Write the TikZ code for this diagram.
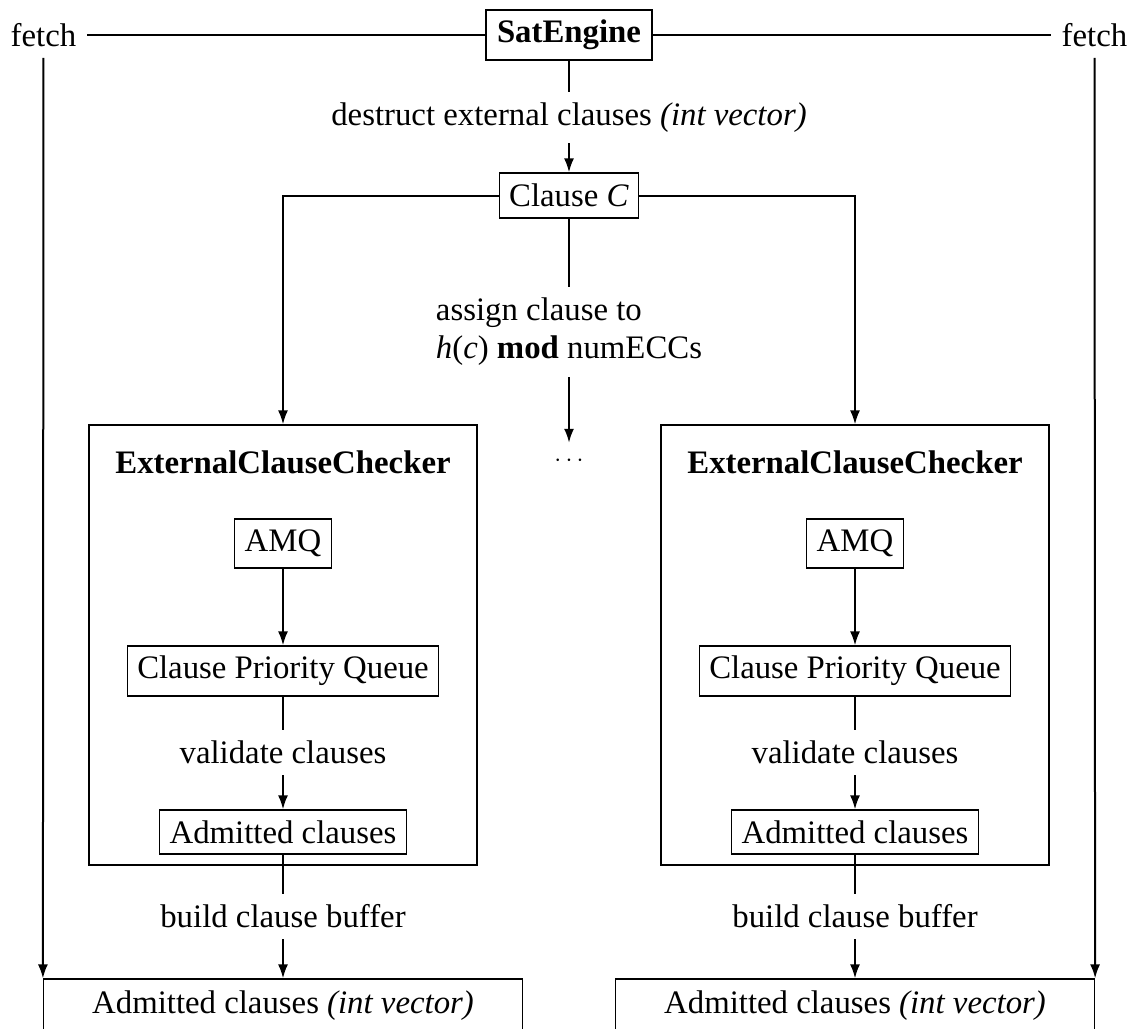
\documentclass[tikz,border=0pt]{standalone}
\usepackage{fontspec}
\setmainfont{Liberation Serif}
\usetikzlibrary{arrows.meta}
\newcommand\bigfont{\fontsize{32.8}{38}\selectfont}
\begin{document}
\begin{tikzpicture}[x=1pt, y=-1pt,
  font=\bigfont,
  box/.style={draw, line width=1.2pt, inner xsep=10pt, inner ysep=6pt},
  lbl/.style={inner sep=0pt},
  conn/.style={line width=2pt},
  flow/.style={conn, -{Latex[length=14pt, width=10pt]}},
  title/.style={font=\bigfont\bfseries},
]
\useasboundingbox (0,0) rectangle (1131,1028);
\clip (0,0) rectangle (1131,1028);

% engine and the clause distribution
\node[box, title, minimum width=166pt, minimum height=50pt] (sat) at (569,35) {SatEngine};
\node[inner sep=11pt] (fetchL) at (43.5,35) {fetch};
\node[inner sep=11pt] (fetchR) at (1094.5,35) {fetch};
\node[lbl, minimum height=51pt] (destr) at (569,117.5) {destruct external clauses \textit{(int vector)}};
\node[box, minimum width=136pt, minimum height=45pt] (clause) at (569,195.5) {Clause \textit{C}};
\node[lbl, align=left, minimum height=90pt] (assign) at (569,332)
  {assign clause to\\\textit{h}(\textit{c}) \textbf{mod} numECCs};
\node[inner sep=0pt, text height=23pt, text depth=0pt] (dots) at (569,454.5) {$\cdots$};

\draw[conn] (fetchL) -- (sat);
\draw[conn] (sat) -- (fetchR);
\draw[conn] (sat) -- (destr);
\draw[flow] (destr) -- (clause);
\draw[conn] (clause) -- (assign);
\draw[flow] (assign) -- (dots);

% one checker per column
\foreach \c/\n in {283/L, 855/R} {
  \node[draw, line width=1.2pt, minimum width=388pt, minimum height=440pt] (ecc\n) at (\c,645) {};
  \node[title] (ecct\n) at (\c,462) {ExternalClauseChecker};
  \node[box, minimum width=92pt, minimum height=49pt] (amq\n) at (\c,543.5) {AMQ};
  \node[box, minimum width=310pt, minimum height=50pt] (cpq\n) at (\c,671) {Clause Priority Queue};
  \node[lbl, minimum height=45pt] (valid\n) at (\c,752.5) {validate clauses};
  \node[box, minimum width=245pt, minimum height=44pt] (adm\n) at (\c,832) {Admitted clauses};
  \node[lbl, minimum height=45pt] (build\n) at (\c,916.5) {build clause buffer};
  \node[box, minimum width=479pt, minimum height=53pt] (out\n) at (\c,1005.5) {Admitted clauses \textit{(int vector)}};
  \draw[flow] (clause) -| (ecc\n);
  \draw[flow] (amq\n) -- (cpq\n);
  \draw[conn] (cpq\n) -- (valid\n);
  \draw[flow] (valid\n) -- (adm\n);
  \draw[conn] (adm\n) -- (build\n);
  \draw[flow] (build\n) -- (out\n);
}

% fetched buffers go back to the outer columns
\draw[flow] (fetchL) -- (outL.north west);
\draw[flow] (fetchR) -- (outR.north east);
\end{tikzpicture}
\end{document}
